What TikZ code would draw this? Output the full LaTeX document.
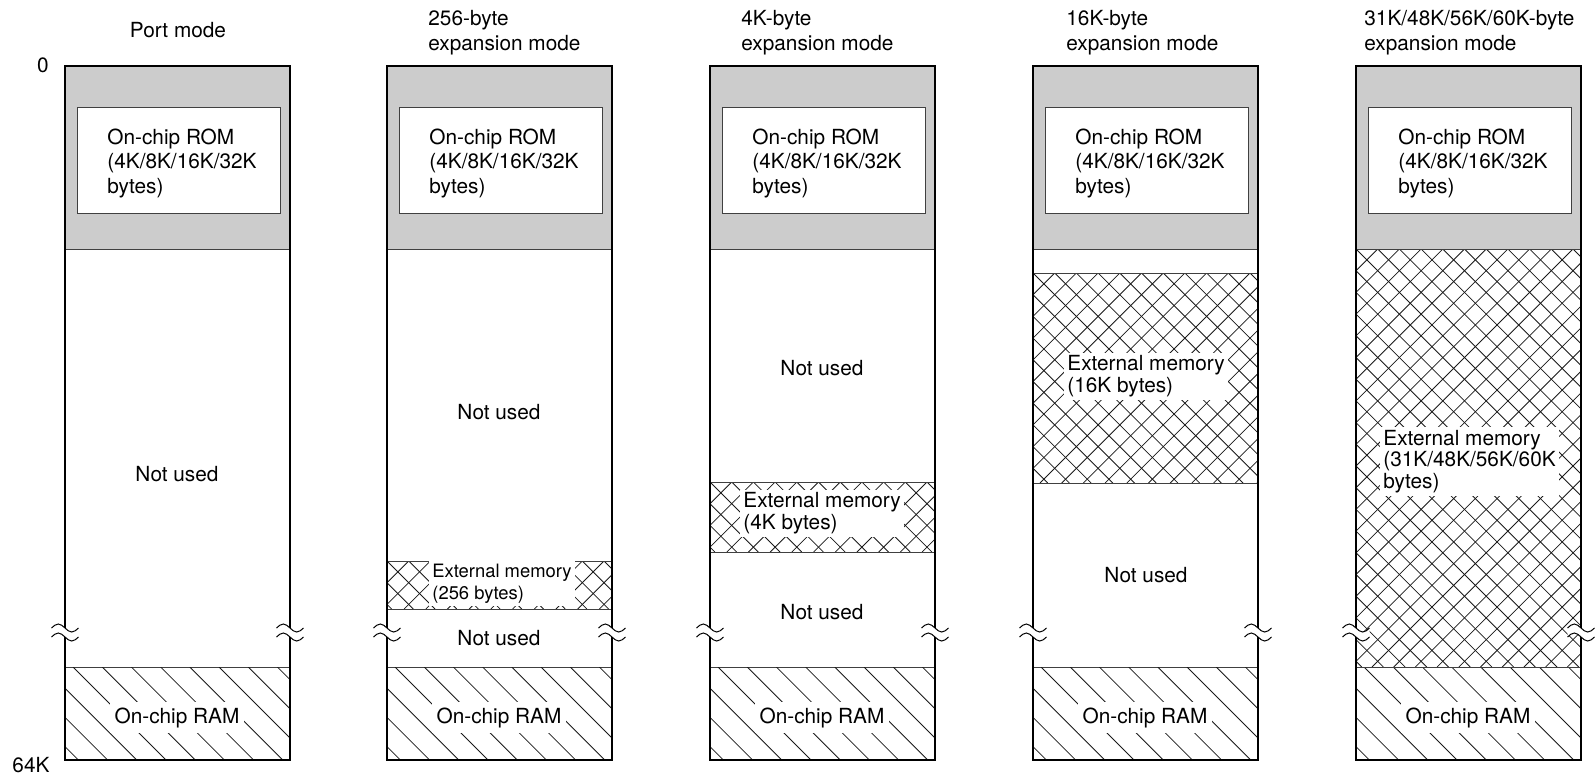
\documentclass[tikz,border=0pt]{standalone}
\usepackage{fontspec}
\setmainfont{TeX Gyre Heros}
\newcommand\crossfill[4]{%
  \begin{scope}
    \clip (#1,#2) rectangle (#3,#4);
    \foreach \k in {-22,...,32}{
      \draw[hatchline] ({#1+\k*21.7},#2) -- ++({#4-#2},{#4-#2});
      \draw[hatchline] ({#1+\k*21.7},#2) -- ++({#2-#4},{#4-#2});
    }
  \end{scope}}
\newcommand\ramfill[4]{%
  \begin{scope}
    \clip (#1,#2) rectangle (#3,#4);
    \foreach \k in {-5,...,9}{
      \draw[hatchline] ({#1+8+\k*29.2},#2) -- ++({#4-#2},{#4-#2});
    }
  \end{scope}}
\begin{document}
\begin{tikzpicture}[x=0.5pt,y=-0.5pt,
  frameline/.style={line width=1.3pt},
  divline/.style={line width=0.5pt, black!75},
  hatchline/.style={line width=0.4pt, black!90},
  romrect/.style={line width=0.5pt, black!75, fill=white},
  greyfill/.style={fill={rgb,255:red,204;green,204;blue,204}},
  ttl/.style={font=\fontsize{10.4pt}{12.5pt}\selectfont, inner sep=0pt, align=left},
  romlbl/.style={font=\fontsize{10.4pt}{12.25pt}\selectfont, inner sep=0pt, align=left, anchor=base west},
  plainlbl/.style={font=\fontsize{10.4pt}{12.25pt}\selectfont, inner sep=0pt, anchor=base},
  ramlbl/.style={font=\fontsize{10.4pt}{12.25pt}\selectfont, inner sep=2.5pt, fill=white, anchor=base},
  extlbl/.style={font=\fontsize{10.4pt}{10.6pt}\selectfont, inner sep=1.5pt, fill=white, align=left, anchor=base west},
  extsmall/.style={font=\fontsize{9.2pt}{11pt}\selectfont, inner sep=1.5pt, fill=white, align=left, anchor=base west},
  brk/.style={line width=0.5pt, black}
]
\useasboundingbox (0,0) rectangle (1595,778);

% ---------- common parts of the five columns ----------
\foreach \i/\c in {1/65,2/387,3/710,4/1033,5/1356}{
  \fill[greyfill] (\c,66) rectangle ({\c+225},249);
  \draw[romrect] ({\c+12},107) rectangle ({\c+215},213);
  \node[romlbl] (rom\i) at ({\c+42},193) {On-chip ROM\\(4K/8K/16K/32K\\bytes)};
  \draw[divline] (\c,249) -- ({\c+225},249);
  \draw[divline] (\c,667) -- ({\c+225},667);
  \ramfill{\c}{667}{\c+225}{760}
  \node[ramlbl] (ram\i) at ({\c+112},723) {On-chip RAM};
}

% ---------- column 1: port mode ----------
\node[plainlbl] (nu1) at (177,481) {Not used};

% ---------- column 2: 256-byte ----------
\crossfill{387}{561}{612}{609}
\draw[divline] (387,561) -- (612,561);
\draw[divline] (387,609) -- (612,609);
\node[plainlbl] (nu2a) at (499,419) {Not used};
\node[extsmall] (ext2) at (429,599) {External memory\\(256 bytes)};
\node[plainlbl] (nu2b) at (499,645) {Not used};

% ---------- column 3: 4K-byte ----------
\crossfill{710}{482}{935}{552}
\draw[divline] (710,482) -- (935,482);
\draw[divline] (710,552) -- (935,552);
\node[plainlbl] (nu3a) at (822,375) {Not used};
\node[extlbl] (ext3) at (740,529) {External memory\\(4K bytes)};
\node[plainlbl] (nu3b) at (822,619) {Not used};

% ---------- column 4: 16K-byte ----------
\crossfill{1033}{273}{1258}{483}
\draw[divline] (1033,273) -- (1258,273);
\draw[divline] (1033,483) -- (1258,483);
\node[extlbl] (ext4) at (1064,392) {External memory\\(16K bytes)};
\node[plainlbl] (nu4) at (1146,582) {Not used};

% ---------- column 5: 31K/48K/56K/60K-byte ----------
\crossfill{1356}{249}{1581}{667}
\draw[divline] (1356,249) -- (1581,249);
\draw[divline] (1356,667) -- (1581,667);
\node[extlbl] (ext5) at (1380,488) {External memory\\(31K/48K/56K/60K\\bytes)};

% ---------- outer frames and break marks ----------
\foreach \c in {65,387,710,1033,1356}{
  \draw[frameline] (\c,66) rectangle ({\c+225},760);
  \foreach \e in {\c,\c+225}{
    \fill[white] ({\e-13.5},628) sin ({\e-6.75},624) cos ({\e},628) sin ({\e+6.75},632) cos ({\e+13.5},628)
      -- ({\e+13.5},637) sin ({\e+6.75},641) cos ({\e},637) sin ({\e-6.75},633) cos ({\e-13.5},637) -- cycle;
    \draw[brk] ({\e-13.5},628) sin ({\e-6.75},624) cos ({\e},628) sin ({\e+6.75},632) cos ({\e+13.5},628);
    \draw[brk] ({\e-13.5},637) sin ({\e-6.75},633) cos ({\e},637) sin ({\e+6.75},641) cos ({\e+13.5},637);
  }
}

% ---------- titles ----------
\node[ttl, anchor=base] (t1) at (178,37) {Port mode};
\node[ttl, anchor=base west] (t2) at (428,50) {256-byte\\expansion mode};
\node[ttl, anchor=base west] (t3) at (741,50) {4K-byte\\expansion mode};
\node[ttl, anchor=base west] (t4) at (1066,50) {16K-byte\\expansion mode};
\node[ttl, anchor=base west] (t5) at (1364,50) {31K/48K/56K/60K-byte\\expansion mode};

% ---------- address labels ----------
\node[ttl] (a0) at (43,65) {0};
\node[ttl] (a64) at (31,765) {64K};
\end{tikzpicture}
\end{document}
